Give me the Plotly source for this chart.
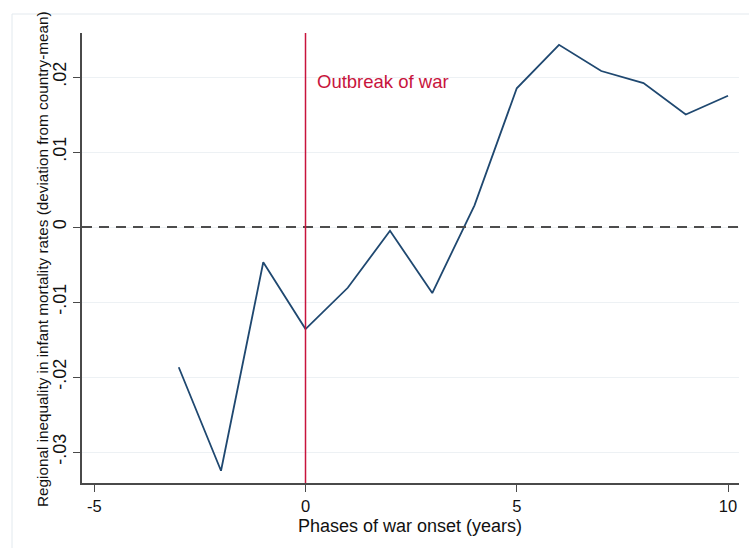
import plotly.graph_objects as go

# Event-time phases around war onset (years) and estimated coefficients
phases = [-3, -2, -1, 0, 1, 2, 3, 4, 5, 6, 7, 8, 9, 10]
inequality = [-0.0187, -0.0325, -0.0047, -0.0136, -0.0081, -0.0005, -0.0088,
              0.0029, 0.0185, 0.0243, 0.0208, 0.0192, 0.0150, 0.0175]

x_ticks = [-5, 0, 5, 10]
y_ticks = [0.02, 0.01, 0.0, -0.01, -0.02, -0.03]
y_tick_text = [".02", ".01", "0", "-.01", "-.02", "-.03"]

war_onset = 0
reference_level = 0

FONT = "Liberation Sans, Arial, sans-serif"
TEXT = "#111111"
AXIS_COLOR = "#4a4a4a"
LINE_COLOR = "#1f4870"
RED = "#c8143c"

fig = go.Figure()

fig.add_trace(go.Scatter(
    x=phases, y=inequality, mode="lines",
    line=dict(color=LINE_COLOR, width=1.8),
    showlegend=False, hoverinfo="x+y",
))

# Zero reference line and outbreak marker
fig.add_shape(type="line", xref="paper", yref="y", x0=0, x1=1,
              y0=reference_level, y1=reference_level,
              line=dict(color="#4d4d4d", width=2, dash="10px,7px"))
fig.add_shape(type="line", xref="x", yref="paper", x0=war_onset, x1=war_onset,
              y0=0, y1=1, line=dict(color=RED, width=1.5))

fig.add_annotation(x=war_onset, y=0.0194, xref="x", yref="y",
                   text="Outbreak of war", showarrow=False,
                   xanchor="left", yanchor="middle", xshift=9,
                   font=dict(family=FONT, size=18.5, color=RED))

# Outer graph-region frame
fig.add_shape(type="rect", xref="paper", yref="paper",
              x0=-0.1065, x1=1.2, y0=-0.3, y1=1.0422,
              line=dict(color="#e3e9ee", width=1), layer="below")

# Axis titles
fig.add_annotation(x=-0.0594, y=0.4978, xref="paper", yref="paper",
                   xanchor="center", yanchor="middle",
                   text="Regional inequality in infant mortality rates (deviation from country-mean)",
                   textangle=-90, showarrow=False,
                   font=dict(family=FONT, size=15.3, color=TEXT))
fig.add_annotation(x=0.4992, y=-0.0956, xref="paper", yref="paper",
                   xanchor="center", yanchor="middle",
                   text="Phases of war onset (years)", showarrow=False,
                   font=dict(family=FONT, size=18, color=TEXT))

fig.update_xaxes(
    range=[-5.29, 10.26], tickvals=x_ticks, ticktext=[str(v) for v in x_ticks],
    showgrid=False, zeroline=False,
    showline=True, linecolor=AXIS_COLOR, linewidth=1.5,
    ticks="outside", ticklen=7, tickwidth=1.2, tickcolor=AXIS_COLOR,
    tickfont=dict(family=FONT, size=16.5, color=TEXT),
)
fig.update_yaxes(
    range=[-0.03413, 0.02587], tickvals=y_ticks, ticktext=y_tick_text,
    tickangle=-90,
    showgrid=True, gridcolor="#edf1f4", gridwidth=1, zeroline=False,
    showline=True, linecolor=AXIS_COLOR, linewidth=1.5,
    ticks="outside", ticklen=7, tickwidth=1.2, tickcolor=AXIS_COLOR,
    tickfont=dict(family=FONT, size=18, color=TEXT),
)

fig.update_layout(
    width=749, height=548,
    margin=dict(l=82, r=10, t=33, b=65),
    paper_bgcolor="white", plot_bgcolor="white",
    font=dict(family=FONT),
)

fig.write_html("out.html")
